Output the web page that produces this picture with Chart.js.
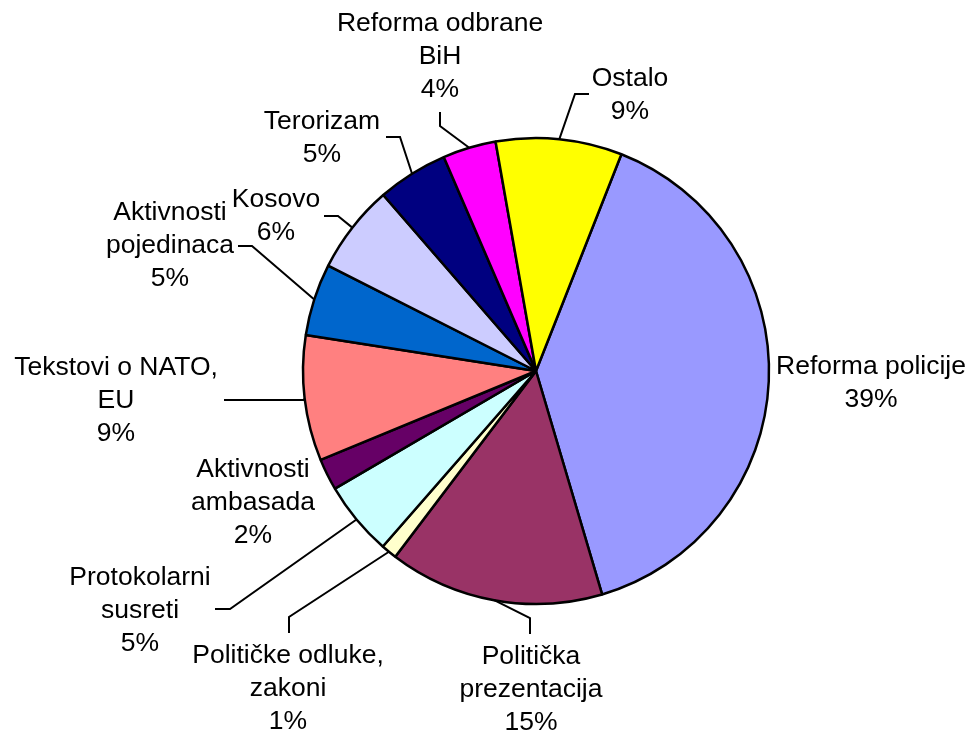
<!DOCTYPE html>
<html>
<head>
<meta charset="utf-8">
<script src="https://cdn.jsdelivr.net/npm/chart.js@4"></script>
<style>
  html, body { margin: 0; padding: 0; background: #fff; }
  #wrap { width: 975px; height: 734px; }
</style>
</head>
<body>
<div id="wrap"><canvas id="pieChart" width="975" height="734"></canvas></div>
<script>
// slice order runs clockwise, starting just right of 12 o'clock
const categories = [
  ["Reforma policije"],
  ["Politička", "prezentacija"],
  ["Političke odluke,", "zakoni"],
  ["Protokolarni", "susreti"],
  ["Aktivnosti", "ambasada"],
  ["Tekstovi o NATO,", "EU"],
  ["Aktivnosti", "pojedinaca"],
  ["Kosovo"],
  ["Terorizam"],
  ["Reforma odbrane", "BiH"],
  ["Ostalo"],
];
const seriesValues = [39.45, 14.9, 1.1, 5.15, 2.2, 8.7, 5.0, 6.15, 4.9, 3.7, 8.75];
const sliceColors = [
  "#9999ff", "#993366", "#ffffcc", "#ccffff", "#660066", "#ff8080",
  "#0066cc", "#ccccff", "#000080", "#ff00ff", "#ffff00",
];

// label placement, offsets from the pie centre (text = centre x / first baseline)
const labelLayout = [
  { text: [335, 3] },
  { text: [-5, 293], line: [[-6, 247], [-6, 263]] },
  { text: [-248, 292], line: [[-247, 246], [-247, 262]] },
  { text: [-396, 214], line: [[-306, 238], [-321, 238]] },
  { text: [-283, 106] },
  { text: [-420, 4], line: [[-232, 29], [-312, 29]] },
  { text: [-366, -151], line: [[-284, -125], [-298, -125]] },
  { text: [-260, -164], line: [[-198, -155], [-212, -155]] },
  { text: [-214, -242], line: [[-136, -234], [-150, -234]] },
  { text: [-96, -340], line: [[-96, -245], [-96, -259]] },
  { text: [94, -285], line: [[39, -277], [53, -277]] },
];

const leaderLabels = {
  id: "leaderLabels",
  afterDatasetsDraw(chart) {
    const { ctx } = chart;
    const meta = chart.getDatasetMeta(0);
    const total = seriesValues.reduce((a, b) => a + b, 0);
    ctx.save();
    ctx.font = "26.5px 'Liberation Sans', Arial, sans-serif";
    ctx.fillStyle = "#000";
    ctx.strokeStyle = "#000";
    ctx.lineWidth = 2;
    ctx.textAlign = "center";
    ctx.textBaseline = "alphabetic";
    meta.data.forEach((arc, i) => {
      const { x, y, startAngle, endAngle, outerRadius } = arc.getProps(
        ["x", "y", "startAngle", "endAngle", "outerRadius"], true);
      const mid = (startAngle + endAngle) / 2;
      const spot = labelLayout[i];
      if (spot.line) {
        ctx.beginPath();
        ctx.moveTo(x + Math.cos(mid) * outerRadius, y + Math.sin(mid) * outerRadius);
        spot.line.forEach(([dx, dy]) => ctx.lineTo(x + dx, y + dy));
        ctx.stroke();
      }
      const pct = Math.round((seriesValues[i] / total) * 100) + "%";
      const lines = [...categories[i], pct];
      lines.forEach((t, k) => {
        ctx.fillText(t, x + spot.text[0], y + spot.text[1] + k * 33);
      });
    });
    ctx.restore();
  },
};

new Chart(document.getElementById("pieChart"), {
  type: "pie",
  data: {
    labels: categories,
    datasets: [
      {
        data: seriesValues,
        backgroundColor: sliceColors,
        borderColor: "#000",
        borderWidth: 2.5,
      },
    ],
  },
  options: {
    responsive: false,
    animation: false,
    rotation: 21.5,
    radius: 233,
    layout: { padding: { left: 120, right: 23, top: 30, bottom: 22 } },
    plugins: {
      legend: { display: false },
      tooltip: { enabled: false },
    },
  },
  plugins: [leaderLabels],
});
</script>
</body>
</html>
